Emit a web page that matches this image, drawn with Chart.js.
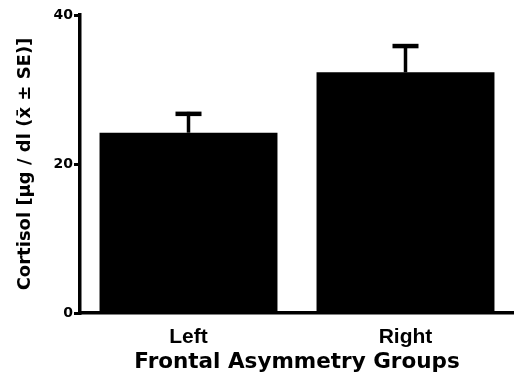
<!DOCTYPE html>
<html>
<head>
<meta charset="utf-8">
<script src="https://cdn.jsdelivr.net/npm/chart.js@4"></script>
<style>
  html, body { margin: 0; padding: 0; background: #fff; }
  #wrap { width: 514px; height: 382px; }
</style>
</head>
<body>
<div id="wrap"><canvas id="myChart" width="514" height="382"></canvas></div>
<script>
const groups = ['Left', 'Right'];
const cortisolMeans = [24.2, 32.3];
const cortisolSE = [2.8, 3.8];
const yTicks = [0, 20, 40];

const SANS = "'Liberation Sans', Arial, Helvetica, sans-serif";
const WIDE = "'DejaVu Sans', Verdana, sans-serif";

// draws the upper half of the error bar (mean + SE) with a cap
const errorBars = {
  id: 'errorBars',
  afterDatasetsDraw(chart) {
    const ctx = chart.ctx;
    const meta = chart.getDatasetMeta(0);
    const y = chart.scales.y;
    ctx.save();
    ctx.strokeStyle = '#000';
    meta.data.forEach((bar, i) => {
      const top = y.getPixelForValue(cortisolMeans[i] + cortisolSE[i]);
      ctx.lineWidth = 3.5;
      ctx.beginPath();
      ctx.moveTo(bar.x, bar.y);
      ctx.lineTo(bar.x, top);
      ctx.stroke();
      ctx.lineWidth = 4.5;
      ctx.beginPath();
      ctx.moveTo(bar.x - 13, top + 2);
      ctx.lineTo(bar.x + 13, top + 2);
      ctx.stroke();
    });
    ctx.restore();
  }
};

const ctx = document.getElementById('myChart').getContext('2d');
const myChart = new Chart(ctx, {
  type: 'bar',
  data: {
    labels: groups,
    datasets: [{
      data: cortisolMeans,
      backgroundColor: '#000',
      borderWidth: 0,
      barPercentage: 0.82,
      categoryPercentage: 1
    }]
  },
  options: {
    responsive: false,
    animation: false,
    layout: { padding: { top: 15, right: 0, left: 0, bottom: 0 } },
    plugins: { legend: { display: false }, tooltip: { enabled: false } },
    scales: {
      x: {
        grid: { display: false, drawTicks: false },
        border: { display: true, color: '#000', width: 3.5 },
        ticks: { color: '#000', padding: 12, font: { family: SANS, size: 21, weight: 'bold' } },
        title: {
          display: true,
          text: 'Frontal Asymmetry Groups',
          color: '#000',
          padding: { top: 0, bottom: 7 },
          font: { family: WIDE, size: 21.5, weight: 'bold' }
        },
        afterFit(scale) { scale.height = 69; }
      },
      y: {
        min: 0,
        max: 40,
        afterBuildTicks(scale) { scale.ticks = yTicks.map(v => ({ value: v })); },
        grid: { display: true, drawOnChartArea: false, drawTicks: true, tickLength: 6, color: '#000', lineWidth: 3 },
        border: { display: true, color: '#000', width: 3.5 },
        ticks: { color: '#000', padding: 1, font: { family: WIDE, size: 14, weight: 'bold' } },
        title: {
          display: true,
          text: 'Cortisol [\u03BCg / dl (x\u0304 \u00B1 SE)]',
          color: '#000',
          padding: { top: 15, bottom: 0 },
          font: { family: WIDE, size: 18, weight: 'bold' }
        },
        afterFit(scale) { scale.width = 80; }
      }
    }
  },
  plugins: [errorBars]
});
</script>
</body>
</html>
